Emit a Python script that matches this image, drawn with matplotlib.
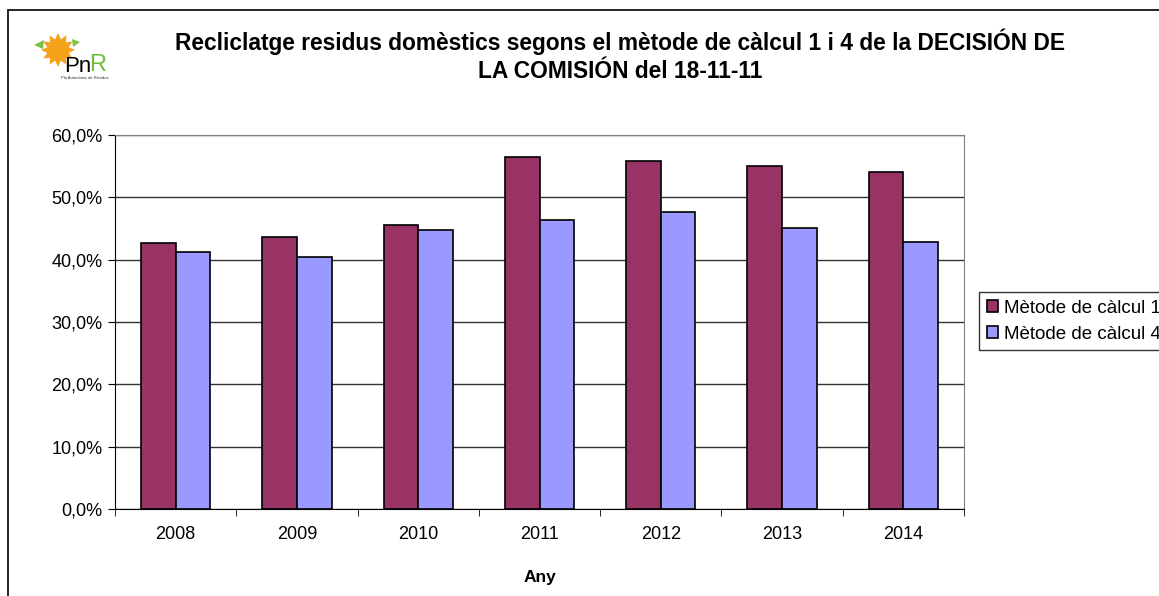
import numpy as np
import matplotlib.pyplot as plt
from matplotlib.patches import Rectangle, Polygon
from matplotlib.ticker import FuncFormatter, FixedLocator

plt.rcParams['font.family'] = ['Liberation Sans', 'DejaVu Sans']

# data
years = ['2008', '2009', '2010', '2011', '2012', '2013', '2014']
metode_1 = [42.6, 43.7, 45.6, 56.4, 55.8, 55.1, 54.0]
metode_4 = [41.2, 40.5, 44.7, 46.3, 47.7, 45.1, 42.8]

fig = plt.figure(figsize=(11.59, 5.96), dpi=100)
W, H = 1159, 596

# outer chart border (cut off on the right and bottom)
fig.patches.append(Rectangle((8 / W, -0.05), 1.2, 1 - 10 / H + 0.05, transform=fig.transFigure,
                             fill=False, edgecolor='black', linewidth=1.2))

ax = fig.add_axes([115 / W, 1 - 509 / H, (964 - 115) / W, (509 - 135) / H])

x = np.arange(len(years))
bw = 0.286
ax.bar(x - bw / 2, metode_1, bw, color='#993366', edgecolor='black', linewidth=1.2,
       label='Mètode de càlcul 1', zorder=3)
ax.bar(x + bw / 2, metode_4, bw, color='#9999FF', edgecolor='black', linewidth=1.2,
       label='Mètode de càlcul 4', zorder=3)

ax.set_xlim(-0.5, len(years) - 0.5)
ax.set_ylim(0, 60)
ax.set_yticks(np.arange(0, 61, 10))
ax.yaxis.set_major_formatter(FuncFormatter(lambda v, p: f'{v:.1f}%'.replace('.', ',')))
ax.set_xticks(x)
ax.set_xticklabels(years)
ax.xaxis.set_minor_locator(FixedLocator(np.arange(-0.5, len(years), 1.0)))
ax.tick_params(axis='x', which='major', length=0, pad=12, labelsize=13)
ax.tick_params(axis='x', which='minor', length=5, direction='out', color='black')
ax.tick_params(axis='y', length=5, direction='out', labelsize=13, pad=4)

ax.grid(axis='y', color='#333333', linewidth=1, zorder=0)
ax.spines['left'].set_color('black')
ax.spines['bottom'].set_color('black')
ax.spines['top'].set_color('#808080')
ax.spines['right'].set_color('#808080')

ax.set_xlabel('Any', fontweight='bold', fontsize=12.5, labelpad=20)

fig.text(620 / W, 1 - 42 / H, 'Recliclatge residus domèstics segons el mètode de càlcul 1 i 4 de la DECISIÓN DE',
         ha='center', va='center', fontsize=16.4, fontweight='bold')
fig.text(620 / W, 1 - 72 / H, 'LA COMISIÓN del 18-11-11',
         ha='center', va='center', fontsize=16.4, fontweight='bold')

# rough logo: orange sun, green leaves, "PnR"
cx, cy = 58, 50
ang = np.linspace(0, 2 * np.pi, 25)[:-1]
rad = np.where(np.arange(24) % 2 == 0, 17, 11)
sun = [((cx + r * np.cos(a)) / W, 1 - (cy + r * np.sin(a)) / H) for a, r in zip(ang, rad)]
fig.patches.append(Polygon(sun, closed=True, transform=fig.transFigure,
                           facecolor='#F5A21B', edgecolor='none'))
fig.patches.append(Polygon([((cx - 24) / W, 1 - 45 / H), ((cx - 14) / W, 1 - 40 / H),
                            ((cx - 15) / W, 1 - 49 / H)], transform=fig.transFigure,
                           facecolor='#7DC242', edgecolor='none'))
fig.patches.append(Polygon([((cx + 22) / W, 1 - 42 / H), ((cx + 14) / W, 1 - 39 / H),
                            ((cx + 15) / W, 1 - 47 / H)], transform=fig.transFigure,
                           facecolor='#7DC242', edgecolor='none'))
fig.text(78 / W, 1 - 66 / H, 'Pn', color='black', fontsize=16, ha='center', va='center')
fig.text(98 / W, 1 - 65 / H, 'R', color='#6DBE3C', fontsize=17, ha='center', va='center')
fig.text(85 / W, 1 - 78 / H, 'Pla Autonòmic de Residus', color='#333333', fontsize=3,
         ha='center', va='center')

leg = fig.legend(loc='upper left', bbox_to_anchor=(979 / W, 1 - 292 / H), fontsize=13.5,
                 frameon=True, fancybox=False, edgecolor='black', handlelength=0.6,
                 handleheight=0.6, handletextpad=0.35, labelspacing=0.5, borderpad=0.4,
                 borderaxespad=0)
leg.get_frame().set_linewidth(1.0)

fig.savefig('out.png', dpi=100)
